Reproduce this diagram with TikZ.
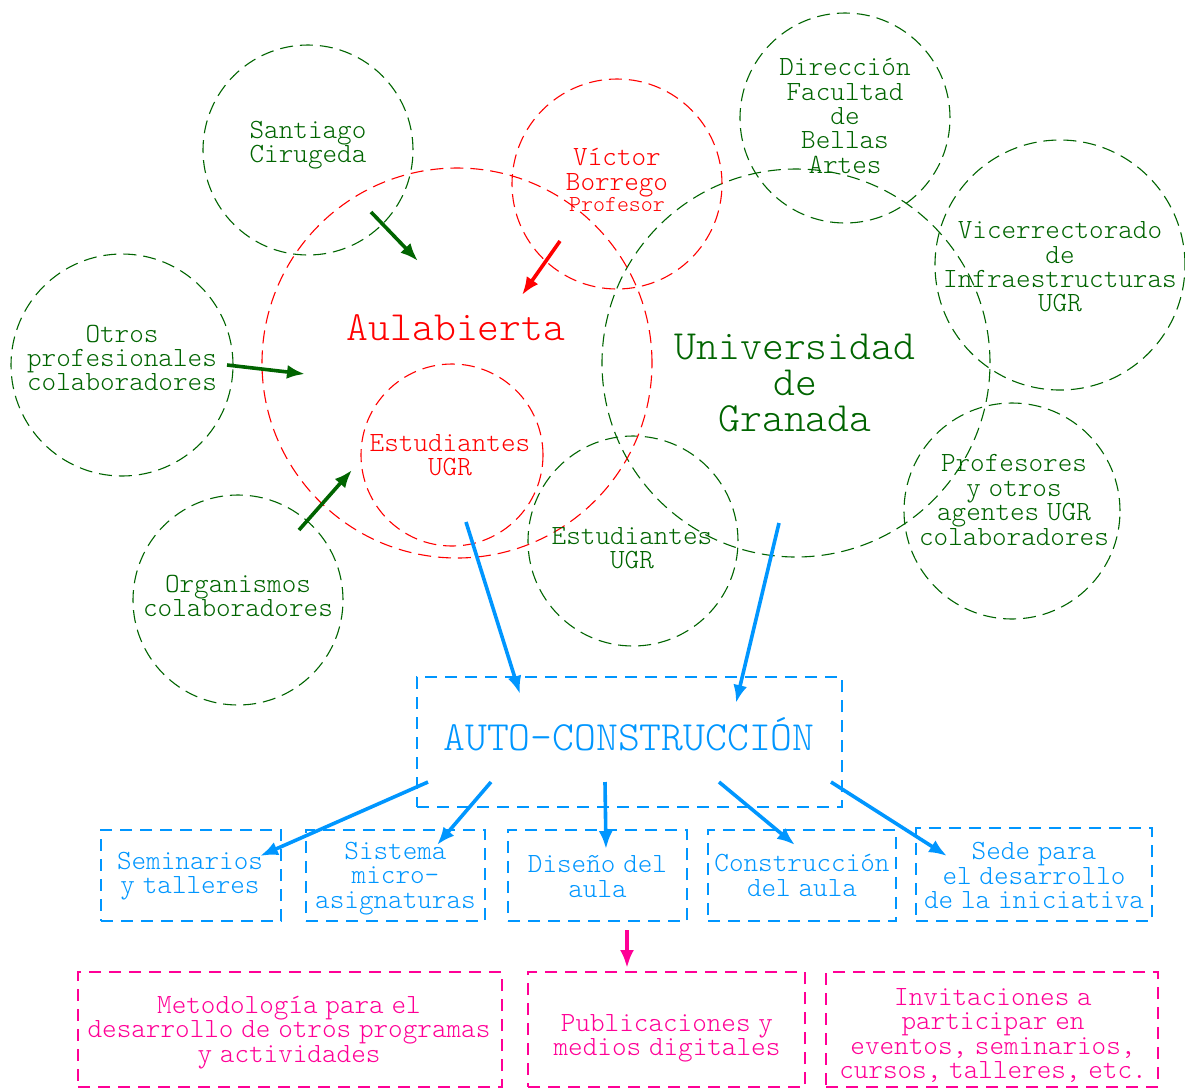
\documentclass[tikz,border=0pt]{standalone}
\usepackage{fontspec}
\usetikzlibrary{arrows.meta}

\definecolor{verde}{RGB}{0,100,0}
\definecolor{rojo}{RGB}{255,0,0}
\definecolor{azul}{RGB}{0,150,255}
\definecolor{rosa}{RGB}{255,0,150}

\newcommand{\txtfont}{\fontseries{l}\ttfamily\fontsize{13.9}{12.2}\selectfont\spaceskip=0.28em\relax}
\newcommand{\bigtxtfont}{\fontseries{l}\ttfamily\fontsize{20.8}{18}\selectfont\spaceskip=0.28em\relax}

\begin{document}
\begin{tikzpicture}[x=0.5pt, y=-0.5pt,
        ring/.style={circle, draw, dash pattern=on 6.5pt off 3.5pt, line width=0.55pt, inner sep=0pt},
        tag/.style={align=center, font=\txtfont, inner sep=0pt},
        caja/.style={draw, dash pattern=on 6pt off 4pt, line width=1pt, inner sep=0pt},
        flecha/.style={line width=1.8pt, -{Latex[length=9pt, width=7pt]}}
    ]
    \useasboundingbox (0,0) rectangle (1185,1089);

    % circulos
    \begin{scope}[every node/.style={ring, verde}]
        \node[minimum size=105pt] (santiago) at (308,150) {};
        \node[minimum size=111pt] (otros) at (122,365) {};
        \node[minimum size=105pt] (organismos) at (238,600) {};
        \node[minimum size=194pt] (ugr) at (796,363) {};
        \node[minimum size=105pt] (direccion) at (845,118) {};
        \node[minimum size=125pt] (vicerrect) at (1060,265) {};
        \node[minimum size=108pt] (profesores) at (1012,511) {};
        \node[minimum size=105pt] (estudg) at (633,541) {};
    \end{scope}
    \begin{scope}[every node/.style={ring, rojo}]
        \node[minimum size=195pt] (aula) at (457,363) {};
        \node[minimum size=91pt] (estudr) at (452,455) {};
        \node[minimum size=105pt] (victor) at (617,184) {};
    \end{scope}

    % textos de los circulos
    \begin{scope}[every node/.style={tag, verde}]
        \node (santiagoT) at (308,145) {Santiago\\Cirugeda};
        \node (otrosT) at (122,358) {Otros\\profesionales\\colaboradores};
        \node (organismosT) at (238,596) {Organismos\\colaboradores};
        \node[font=\bigtxtfont] (ugrT) at (795,383) {Universidad\\de\\Granada};
        \node (direccionT) at (845,116) {Dirección\\Facultad\\de\\Bellas\\Artes};
        \node (vicerrectT) at (1060,267) {Vicerrectorado\\de\\Infraestructuras\\UGR};
        \node (profesoresT) at (1014,500) {Profesores\\y otros\\agentes UGR\\colaboradores};
        \node (estudgT) at (632,548) {Estudiantes\\UGR};
    \end{scope}
    \begin{scope}[every node/.style={tag, rojo}]
        \node[font=\bigtxtfont] (aulaT) at (456,328) {Aulabierta};
        \node (estudrT) at (450,455) {Estudiantes\\UGR};
        \node (victorT) at (617,180) {Víctor\\Borrego\\[-1.7pt]{\fontsize{11.4}{10}\selectfont Profesor}};
    \end{scope}

    % cajas
    \begin{scope}[every node/.style={caja, azul, minimum height=45.5pt}]
        \node[minimum width=212.5pt, minimum height=65pt] (auto) at (629.5,742) {};
        \node[minimum width=90pt] (seminarios) at (191,875.5) {};
        \node[minimum width=89.5pt] (sistema) at (395.5,875.5) {};
        \node[minimum width=89.5pt] (diseno) at (597.5,875.5) {};
        \node[minimum width=94pt] (construccion) at (802,875.5) {};
        \node[minimum width=118pt, minimum height=46.5pt] (sede) at (1034,874.5) {};
    \end{scope}
    \begin{scope}[every node/.style={caja, rosa, minimum height=57.5pt}]
        \node[minimum width=212pt] (metodologia) at (290,1029.5) {};
        \node[minimum width=138.5pt] (publicaciones) at (666.5,1029.5) {};
        \node[minimum width=166pt] (invitaciones) at (992,1029.5) {};
    \end{scope}

    % textos de las cajas
    \begin{scope}[every node/.style={tag, azul}]
        \node[font=\bigtxtfont] (autoT) at (629,734) {AUTO-CONSTRUCCIÓN};
        \node (seminariosT) at (190,876) {Seminarios\\y talleres};
        \node (sistemaT) at (395.5,878.5) {Sistema\\micro-\\asignaturas};
        \node (disenoT) at (597.5,876.5) {Diseño del\\aula};
        \node (construccionT) at (802,875.5) {Construcción\\del aula};
        \node (sedeT) at (1034,875.5) {Sede para\\el desarrollo\\de la iniciativa};
    \end{scope}
    \begin{scope}[every node/.style={tag, rosa}]
        \node (metodologiaT) at (289,1032.5) {Metodología para el\\desarrollo de otros programas\\y actividades};
        \node (publicacionesT) at (667,1038.5) {Publicaciones y\\medios digitales};
        \node (invitacionesT) at (993,1035.5) {Invitaciones a\\participar en\\eventos, seminarios,\\cursos, talleres, etc.};
    \end{scope}

    % extremos de las flechas
    \coordinate (s1) at (371,212);  \coordinate (e1) at (418,261);
    \coordinate (s2) at (227,365);  \coordinate (e2) at (305,374);
    \coordinate (s3) at (299,530);  \coordinate (e3) at (352,470);
    \coordinate (s4) at (560,241);  \coordinate (e4) at (522,295);
    \coordinate (s5) at (466,522);  \coordinate (e5) at (520,694);
    \coordinate (s6) at (779,523);  \coordinate (e6) at (736,703);
    \coordinate (s7) at (428,782);  \coordinate (e7) at (260,856);
    \coordinate (s8) at (491,782);  \coordinate (e8) at (437,845);
    \coordinate (s9) at (605,782);  \coordinate (e9) at (606,849);
    \coordinate (s10) at (719,782); \coordinate (e10) at (795,845);
    \coordinate (s11) at (831,782); \coordinate (e11) at (947,856);
    \coordinate (s12) at (627,930); \coordinate (e12) at (627,968);

    \draw[flecha, verde] (s1) -- (e1);
    \draw[flecha, verde] (s2) -- (e2);
    \draw[flecha, verde] (s3) -- (e3);
    \draw[flecha, rojo] (s4) -- (e4);
    \foreach \i in {5,...,11}
        \draw[flecha, azul] (s\i) -- (e\i);
    \draw[flecha, rosa] (s12) -- (e12);
\end{tikzpicture}
\end{document}
